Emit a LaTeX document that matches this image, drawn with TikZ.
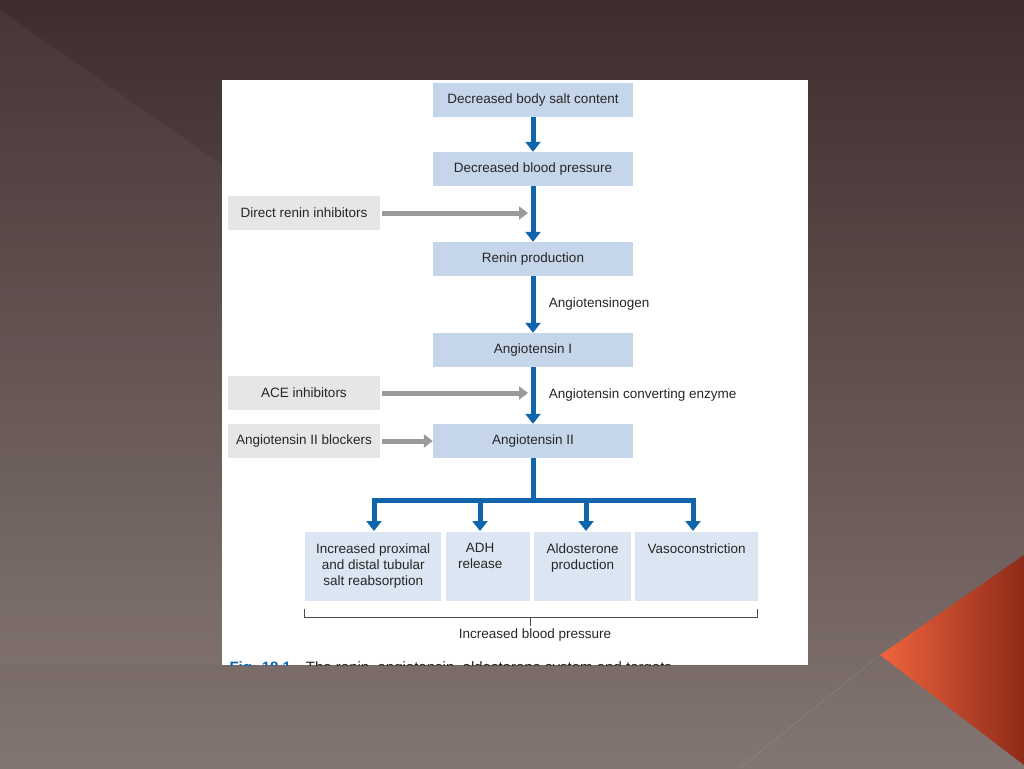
\documentclass[tikz,border=0pt]{standalone}
\usepackage{fontspec}
\setmainfont{Liberation Sans}
\usetikzlibrary{arrows.meta}
\definecolor{bluebox}{HTML}{C6D6EA}
\definecolor{lightbox}{HTML}{DCE6F2}
\definecolor{graybox}{HTML}{E6E6E6}
\definecolor{flow}{HTML}{0F65AC}
\definecolor{inh}{HTML}{9A9A9A}
\definecolor{bgtop}{HTML}{3E2D2D}
\definecolor{bgbot}{HTML}{837571}
\definecolor{orl}{HTML}{F0643E}
\definecolor{ord}{HTML}{8E2A18}
\begin{document}
\begin{tikzpicture}[x=1pt,y=-1pt,
  every node/.style={font=\fontsize{13.5}{16}\selectfont, text=black!85},
  mainbox/.style={fill=bluebox, minimum width=200, minimum height=34, inner sep=0},
  sidebox/.style={fill=graybox, minimum width=152, minimum height=34, inner sep=0},
  effbox/.style={fill=lightbox, minimum height=69, inner sep=0, anchor=north west},
  flowarrow/.style={draw=flow, line width=5, -{Triangle[width=15,length=10]}},
  flowline/.style={draw=flow, line width=5},
  inharrow/.style={draw=inh, line width=5, -{Triangle[width=13,length=9]}}]
\useasboundingbox (0,0) rectangle (1024,768);
\shade[top color=bgtop, bottom color=bgbot] (0,0) rectangle (1024,768);
\fill[white,opacity=0.04] (0,10) -- (222,165) -- (222,665) -- (0,665) -- cycle;
\draw[white,opacity=0.15] (880,655) -- (740,768);
\shade[left color=orl, right color=ord] (880,655) -- (1024,555) -- (1024,765) -- cycle;
\fill[white] (222,80) rectangle (808,665);
% main chain
\node[mainbox] (salt) at (533,100) {Decreased body salt content};
\node[mainbox] (bp) at (533,169) {Decreased blood pressure};
\node[mainbox] (renin) at (533,259) {Renin production};
\node[mainbox] (a1) at (533,350) {Angiotensin I};
\node[mainbox] (a2) at (533,441) {Angiotensin II};
\node[sidebox] (dri) at (304,213) {Direct renin inhibitors};
\node[sidebox] (ace) at (304,393) {ACE inhibitors};
\node[sidebox] (arb) at (304,441) {Angiotensin II blockers};
\draw[flowarrow] (salt.south) -- (bp.north);
\draw[flowarrow] (bp.south) -- (renin.north);
\draw[flowarrow] (renin.south) -- node[right=10, text=black!85] {Angiotensinogen} (a1.north);
\draw[flowarrow] (a1.south) -- node[right=10, text=black!85] {Angiotensin converting enzyme} (a2.north);
\coordinate (t1) at (528,213);
\coordinate (t2) at (528,393);
\draw[inharrow] (dri.east) ++(2,0) -- (t1);
\draw[inharrow] (ace.east) ++(2,0) -- (t2);
\draw[inharrow] (arb.east) ++(2,0) -- (a2.west);
% effects
\node[effbox, minimum width=136] (e1) at (305,532) {};
\node[effbox, minimum width=84] (e2) at (446,532) {};
\node[effbox, minimum width=97] (e3) at (534,532) {};
\node[effbox, minimum width=123] (e4) at (635,532) {};
\node[anchor=north, align=center] (t1x) at ([yshift=-8]e1.north) {Increased proximal\\and distal tubular\\salt reabsorption};
\node[anchor=north, align=center] (t2x) at ([xshift=-8,yshift=-8]e2.north) {ADH\\release};
\node[anchor=north, align=center] (t3x) at ([yshift=-8]e3.north) {Aldosterone\\production};
\node[anchor=north, align=center] (t4x) at ([yshift=-8]e4.north) {Vasoconstriction};
\coordinate (j) at (533,500);
\draw[flowline] (a2.south) -- (j);
\draw[flowline] (371.5,500) -- (695.5,500);
\foreach \x/\e in {374/e1,480/e2,586/e3,693/e4}
  \draw[flowarrow] (\x,498) -- (\x,531);
% bracket
\draw[black!70, line width=0.8] (304,609) -- (304,617) -- (757,617) -- (757,609);
\draw[black!70, line width=0.8] (530,617) -- (530,626);
\node (ibp) at (535,635) {Increased blood pressure};
\begin{scope}
\clip (222,640) rectangle (808,665);
\node[anchor=west, font=\fontsize{15}{18}\selectfont] (cap) at (226,669) {\textcolor{flow}{\textbf{Fig. 18.1}}\quad The renin–angiotensin–aldosterone system and targets};
\end{scope}
\end{tikzpicture}
\end{document}
